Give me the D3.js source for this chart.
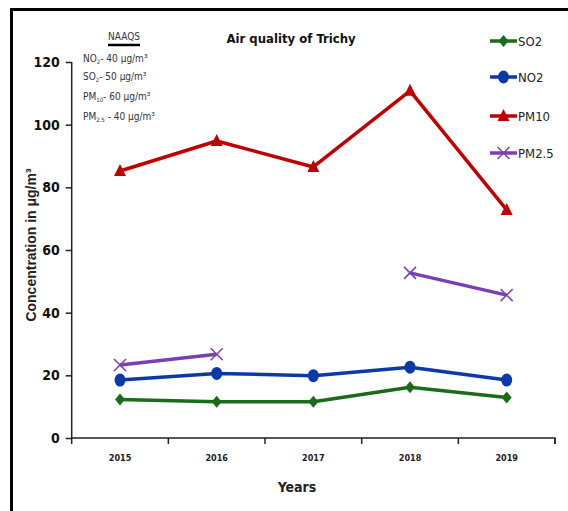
<!DOCTYPE html>
<html><head><meta charset="utf-8">
<script src="https://cdn.jsdelivr.net/npm/d3@7"></script>
<style>body{margin:0;background:#fff}svg{display:block}</style>
</head><body>
<svg id="c" width="568" height="511"></svg>
<script>
const years = ["2015","2016","2017","2018","2019"];
const so2 = [12.3, 11.6, 11.6, 16.2, 12.9];
const no2 = [18.5, 20.6, 19.9, 22.6, 18.5];
const pm10 = [85.2, 94.8, 86.5, 110.8, 72.8];
const pm25 = [23.3, 26.7, null, 52.7, 45.6];
const yTicks = [0, 20, 40, 60, 80, 100, 120];
const seriesNames = ["SO2", "NO2", "PM10", "PM2.5"];
const colors = ["#1a6b1a", "#0a3aa8", "#c00000", "#7b3fb5"];
const shapes = ["diamond", "circle", "triangle", "cross"];

const svg = d3.select("#c");
const font = "'DejaVu Sans Condensed','Liberation Sans Narrow','Arial Narrow',sans-serif";
// frame
svg.append("line").attr("x1",10).attr("x2",568).attr("y1",9.5).attr("y2",9.5).attr("stroke","#000").attr("stroke-width",3);
svg.append("line").attr("x1",11.5).attr("x2",11.5).attr("y1",8).attr("y2",511).attr("stroke","#000").attr("stroke-width",3);

const x = d3.scaleBand().domain(years).range([71.7, 555]);
const y = d3.scaleLinear().domain([0,120]).range([438, 62]);

// axes
const gy = svg.append("g").attr("transform","translate(71.7,0)")
  .call(d3.axisLeft(y).tickValues(yTicks).tickSize(6).tickPadding(6));
gy.select(".domain").attr("stroke","#222").attr("stroke-width",1.5).attr("d","M0,62V438");
gy.selectAll(".tick line").attr("stroke","#222").attr("stroke-width",1.5);
gy.selectAll(".tick text").attr("font-family",font).attr("font-weight","bold").attr("font-size",14).attr("fill","#111");

const gx = svg.append("g").attr("transform","translate(0,438)")
  .call(d3.axisBottom(x).tickSize(0).tickPadding(17));
gx.select(".domain").attr("stroke","#222").attr("stroke-width",1.5).attr("d","M71.7,0H555V6");
gx.selectAll(".tick text").attr("font-family",font).attr("font-weight","bold").attr("font-size",9).attr("fill","#222");
const bounds = years.map(d => x(d)).concat([555]);
gx.selectAll(".bt").data(bounds).enter().append("line")
  .attr("x1",d=>d).attr("x2",d=>d).attr("y1",0).attr("y2",6).attr("stroke","#222").attr("stroke-width",1.5);

const cx = d => x(d) + x.bandwidth()/2;

function marker(g, shape, color, px, py) {
  if (shape === "diamond") {
    g.append("path").attr("d",`M${px},${py-6}L${px+5},${py}L${px},${py+6}L${px-5},${py}Z`).attr("fill",color);
  } else if (shape === "circle") {
    g.append("ellipse").attr("cx",px).attr("cy",py).attr("rx",5.5).attr("ry",6.5).attr("fill",color);
  } else if (shape === "triangle") {
    g.append("path").attr("d",`M${px},${py-7}L${px+6},${py+5}L${px-6},${py+5}Z`).attr("fill",color);
  } else {
    g.append("path").attr("d",`M${px-6},${py-6}L${px+6},${py+6}M${px+6},${py-6}L${px-6},${py+6}`).attr("stroke",color).attr("stroke-width",1.5);
  }
}

const data = [so2, no2, pm10, pm25];
data.forEach((vals, i) => {
  const pts = years.map((yr, j) => ({yr, v: vals[j]}));
  const line = d3.line().defined(d => d.v !== null).x(d => cx(d.yr)).y(d => y(d.v));
  svg.append("path").datum(pts).attr("d", line).attr("fill","none")
    .attr("stroke", colors[i]).attr("stroke-width", 3.5).attr("stroke-linejoin","round");
  const g = svg.append("g");
  pts.filter(d => d.v !== null).forEach(d => marker(g, shapes[i], colors[i], cx(d.yr), y(d.v)));
});

// legend
const legY = [41, 77, 116, 153];
seriesNames.forEach((n, i) => {
  const g = svg.append("g");
  g.append("line").attr("x1",490).attr("x2",517).attr("y1",legY[i]).attr("y2",legY[i]).attr("stroke",colors[i]).attr("stroke-width",3.5);
  marker(g, shapes[i], colors[i], 503.5, legY[i]);
  g.append("text").attr("x",518).attr("y",legY[i]).attr("dy","0.35em").attr("font-family",font).attr("font-size",13).attr("fill","#222").text(n);
});

// title
svg.append("text").attr("x",291).attr("y",43).attr("text-anchor","middle").attr("font-family",font)
  .attr("font-weight","bold").attr("font-size",13).attr("fill","#111").text("Air quality of Trichy");

// axis titles
svg.append("text").attr("x",297).attr("y",492).attr("text-anchor","middle").attr("font-family",font)
  .attr("font-weight","bold").attr("font-size",14).attr("fill","#222").text("Years");
svg.append("text").attr("transform","translate(36,245) rotate(-90)").attr("text-anchor","middle")
  .attr("font-family","'Liberation Sans',Arial,sans-serif").attr("font-weight","bold").attr("font-size",14)
  .attr("fill","#222").text("Concentration in μg/m³");

// NAAQS note
svg.append("text").attr("x",124).attr("y",40).attr("text-anchor","middle").attr("font-family",font)
  .attr("font-size",10).attr("fill","#333").text("NAAQS");
svg.append("line").attr("x1",108).attr("x2",140).attr("y1",45).attr("y2",45).attr("stroke","#000").attr("stroke-width",2.5);
const naaqs = [["NO","2","- 40 μg/m³"],["SO","2","- 50 μg/m³"],["PM","10","- 60 μg/m³"],["PM","2.5"," - 40 μg/m³"]];
const nY = [62, 80, 100, 120];
naaqs.forEach((r, i) => {
  const t = svg.append("text").attr("x",83).attr("y",nY[i]).attr("font-family",font).attr("font-size",10).attr("fill","#333");
  t.append("tspan").text(r[0]);
  t.append("tspan").attr("font-size",6).attr("dy",2).text(r[1]);
  t.append("tspan").attr("dy",-2).text(r[2]);
});
</script>
</body></html>
